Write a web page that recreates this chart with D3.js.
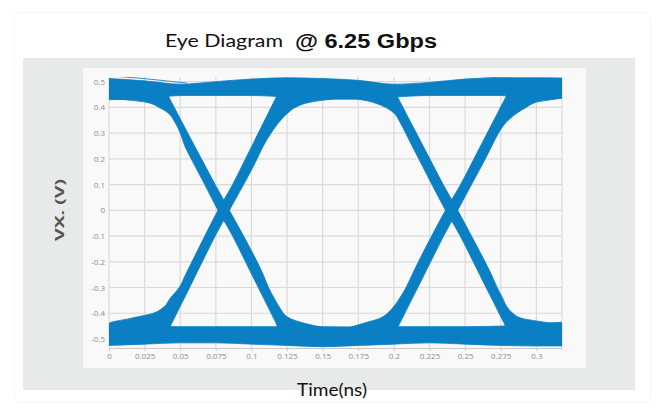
<!DOCTYPE html>
<html><head><meta charset="utf-8">
<script src="https://cdn.jsdelivr.net/npm/d3@7"></script>
<style>body{margin:0;background:#fff} svg{display:block}</style>
</head><body>
<svg id="c" width="663" height="416"></svg>
<script>
// ---- data ----
const xTickValues = [0,0.025,0.05,0.075,0.1,0.125,0.15,0.175,0.2,0.225,0.25,0.275,0.3];
const xTickLabels = ["0","0.025","0.05","0.075","0.1","0.125","0.15","0.175","0.2","0.225","0.25","0.275","0.3"];
const yTickValues = [-0.5,-0.4,-0.3,-0.2,-0.1,0,0.1,0.2,0.3,0.4,0.5];
const yTickLabels = ["-0.5","-0.4","-0.3","-0.2","-0.1","0","0.1","0.2","0.3","0.4","0.5"];

// steady "1" and "0" bands (time, upper/lower edge in V)
const bandTimes  = [0,0.025,0.05,0.075,0.1,0.125,0.15,0.175,0.2,0.225,0.25,0.275,0.3,0.318];
const highTop    = [0.512,0.503,0.490,0.500,0.510,0.515,0.512,0.505,0.490,0.497,0.510,0.515,0.515,0.514];
const highBottom = [0.430,0.432,0.446,0.446,0.446,0.440,0.432,0.432,0.440,0.446,0.446,0.446,0.430,0.435];
const lowTop     = [-0.440,-0.450,-0.452,-0.452,-0.452,-0.452,-0.452,-0.453,-0.452,-0.452,-0.452,-0.450,-0.440,-0.435];
const lowBottom  = [-0.525,-0.520,-0.515,-0.515,-0.520,-0.525,-0.530,-0.525,-0.520,-0.515,-0.520,-0.525,-0.527,-0.527];

// transition bands: for each voltage level, earliest / latest time (ns)
const levels     = [0.47,0.44,0.42,0.40,0.38,0.34,0.30,0.25,0.20,0.10,0.00,-0.10,-0.20,-0.25,-0.30,-0.34,-0.38,-0.40,-0.42,-0.44,-0.47];
const fall1Left  = [0.000,0.000,0.026,0.035,0.041,0.0465,0.0500,0.0532,0.0577,0.0672,0.0765,0.0868,0.0958,0.1003,0.1048,0.1084,0.1120,0.1138,0.1156,0.1174,0.1190];
const fall1Right = [0.040,0.042,0.0439,0.0458,0.0477,0.0515,0.0553,0.0601,0.0649,0.0745,0.0845,0.0945,0.1040,0.1083,0.1120,0.1158,0.1200,0.1225,0.1270,0.1380,0.1650];
const rise1Left  = [0.119,0.1174,0.1156,0.1138,0.1120,0.1084,0.1048,0.1003,0.0958,0.0868,0.0765,0.0672,0.0582,0.0537,0.0493,0.0432,0.0375,0.0310,0.0150,0.000,0.000];
const rise1Right = [0.175,0.165,0.141,0.131,0.126,0.1190,0.1138,0.1083,0.1040,0.0945,0.0845,0.0745,0.0655,0.0610,0.0566,0.0530,0.0494,0.0476,0.0458,0.0440,0.0415];
const fall2Left  = [0.165,0.170,0.185,0.194,0.1995,0.2045,0.2082,0.2128,0.2174,0.2267,0.2362,0.2466,0.2557,0.2602,0.2647,0.2684,0.2720,0.2738,0.2756,0.2775,0.2790];
const fall2Right = [0.2000,0.2026,0.2045,0.2064,0.2082,0.2120,0.2158,0.2205,0.2252,0.2346,0.2448,0.2545,0.2640,0.2685,0.2725,0.2762,0.2800,0.2835,0.2900,0.3100,0.3180];
const rise2Left  = [0.2810,0.2786,0.2767,0.2748,0.2730,0.2692,0.2655,0.2608,0.2562,0.2468,0.2362,0.2265,0.2172,0.2128,0.2085,0.2042,0.1990,0.1955,0.1900,0.1780,0.1600];
const rise2Right = [0.318,0.318,0.300,0.293,0.287,0.2785,0.2735,0.2687,0.2642,0.2545,0.2448,0.2349,0.2258,0.2213,0.2168,0.2131,0.2095,0.2077,0.2059,0.2040,0.2015];

// a few stray traces visible at the band edges
const strayTimes1 = [0,0.02,0.04,0.055];
const strayVals1  = [0.522,0.514,0.503,0.494];
const strayTimes2 = [0.26,0.285,0.31,0.318];
const strayVals2  = [0.512,0.520,0.522,0.521];

// ---- drawing ----
const svg = d3.select("#c");
const blue = "#0a7fc4";

// card + panels
svg.append("rect").attr("x",14.5).attr("y",12.5).attr("width",636).attr("height",390).attr("rx",6)
  .attr("fill","#fff").attr("stroke","#f6f6f6");
svg.append("rect").attr("x",23).attr("y",58).attr("width",612).attr("height",332).attr("fill","#e8e9e9");
svg.append("rect").attr("x",83).attr("y",68).attr("width",503).attr("height",300).attr("fill","#f9f9f9");

const pLeft = 109, pRight = 562, pTop = 77, pBottom = 348;
const x = d3.scaleLinear().domain([0,0.318]).range([pLeft,pRight]);
const y = d3.scaleLinear().domain([-0.535,0.518]).range([pBottom,pTop]);

svg.append("defs").append("clipPath").attr("id","clip")
  .append("rect").attr("x",pLeft).attr("y",pTop).attr("width",pRight-pLeft).attr("height",pBottom-pTop);

// grid
const grid = svg.append("g").attr("stroke","#dadada").attr("stroke-width",1.2);
xTickValues.concat([0.318]).forEach(v=>{
  grid.append("line").attr("x1",x(v)).attr("x2",x(v)).attr("y1",pTop).attr("y2",pBottom);
});
yTickValues.forEach(v=>{
  grid.append("line").attr("x1",pLeft).attr("x2",pRight).attr("y1",y(v)).attr("y2",y(v));
});

const plot = svg.append("g").attr("clip-path","url(#clip)");

// steady bands
const hArea = d3.area().x(d=>x(d.t)).y0(d=>y(d.lo)).y1(d=>y(d.hi)).curve(d3.curveMonotoneX);
const high = bandTimes.map((t,i)=>({t, lo:highBottom[i], hi:highTop[i]}));
const low  = bandTimes.map((t,i)=>({t, lo:lowBottom[i],  hi:lowTop[i]}));
[high, low].forEach(b=>{
  plot.append("path").attr("d",hArea(b)).attr("fill",blue).attr("stroke",blue).attr("stroke-width",0.8);
});

// transition bands
const vArea = d3.area().y(d=>y(d.v)).x0(d=>x(d.l)).x1(d=>x(d.r)).curve(d3.curveMonotoneY);
[[fall1Left,fall1Right],[rise1Left,rise1Right],[fall2Left,fall2Right],[rise2Left,rise2Right]].forEach(([L,R])=>{
  const data = levels.map((v,i)=>({v, l:L[i], r:R[i]}));
  plot.append("path").attr("d",vArea(data)).attr("fill",blue).attr("stroke",blue).attr("stroke-width",0.8);
});

// stray traces
const line = d3.line().x(d=>x(d[0])).y(d=>y(d[1])).curve(d3.curveMonotoneX);
[[strayTimes1,strayVals1],[strayTimes2,strayVals2]].forEach(([T,V])=>{
  plot.append("path").attr("d",line(T.map((t,i)=>[t,V[i]]))).attr("fill","none")
    .attr("stroke","#2d8fcc").attr("stroke-width",1);
});

// axes
const xAxis = d3.axisBottom(x).tickValues(xTickValues).tickFormat((d,i)=>xTickLabels[i])
  .tickSize(3).tickSizeOuter(0).tickPadding(2);
const gx = svg.append("g").attr("transform",`translate(0,${pBottom})`).call(xAxis);
gx.select(".domain").attr("stroke","#c9c9c9");
gx.selectAll(".tick line").attr("stroke","#c9c9c9");
gx.selectAll("text").attr("fill","#8e8e8e").style("font-family","'Open Sans'").style("font-size","8px");

const yAxis = d3.axisLeft(y).tickValues(yTickValues).tickFormat((d,i)=>yTickLabels[i])
  .tickSize(0).tickPadding(4);
const gy = svg.append("g").attr("transform",`translate(${pLeft},0)`).call(yAxis);
gy.select(".domain").remove();
gy.selectAll("text").attr("fill","#8e8e8e").style("font-family","'Open Sans'").style("font-size","8px");

// titles
function fitText(sel, width){ sel.attr("textLength",width).attr("lengthAdjust","spacingAndGlyphs"); }
const t1 = svg.append("text").attr("x",165).attr("y",47).text("Eye Diagram")
  .style("font-family","Lato, 'Noto Sans', sans-serif").style("font-size","18px").attr("fill","#111");
fitText(t1,118);
const t2 = svg.append("text").attr("x",295).attr("y",48).text("@ 6.25 Gbps")
  .style("font-family","'Liberation Sans', Arial, sans-serif").style("font-weight","bold").style("font-size","20px").attr("fill","#111");
fitText(t2,142);

const yt = svg.append("text").attr("transform","translate(64,210) rotate(-90)").attr("text-anchor","middle")
  .text("VX. (V)").style("font-family","'Open Sans', sans-serif").style("font-weight","bold")
  .style("font-size","13px").attr("fill","#555");
fitText(yt,62);

const xt = svg.append("text").attr("x",297).attr("y",396).text("Time(ns)")
  .style("font-family","Lato, 'Noto Sans', sans-serif").style("font-size","17px").attr("fill","#111");
fitText(xt,70);
</script>
</body></html>
